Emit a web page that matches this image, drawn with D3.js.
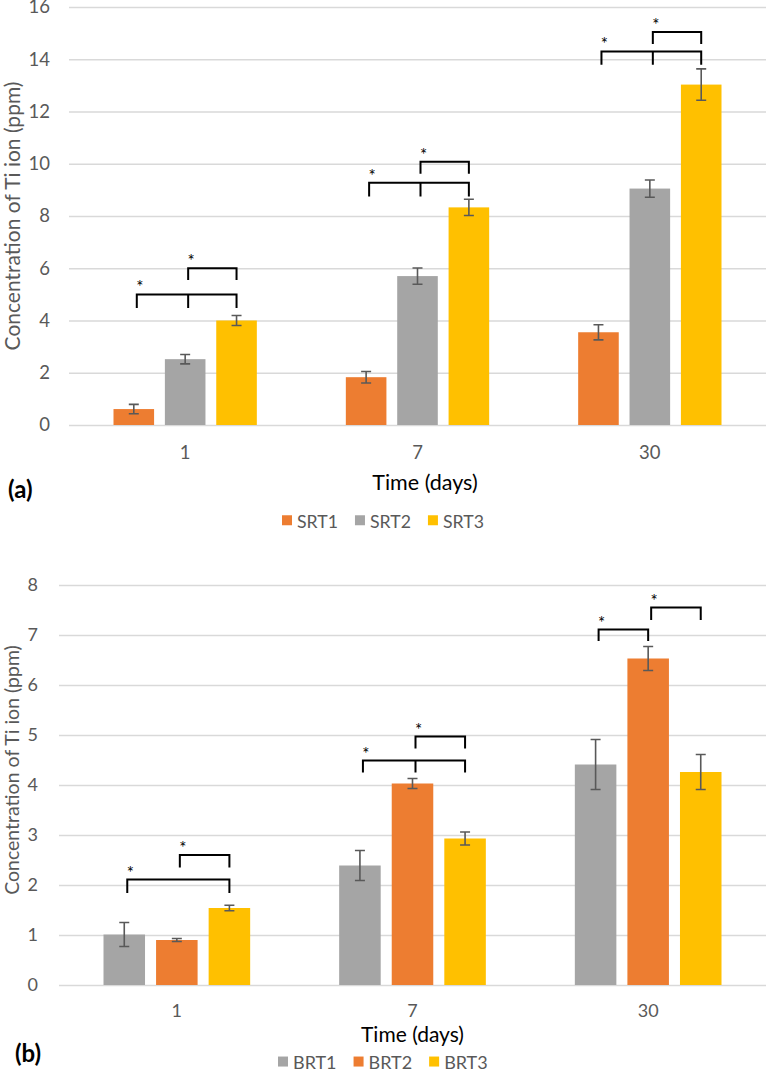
<!DOCTYPE html>
<html><head><meta charset="utf-8">
<script src="https://cdn.jsdelivr.net/npm/d3@7"></script>
<style>
body{margin:0;background:#fff}
svg{display:block}
text{font-family:Lato,"Open Sans",sans-serif}
</style>
</head><body>
<svg id="c" width="767" height="1079"></svg>
<script>
// ---------- data ----------
const days = ["1", "7", "30"];

const seriesA = ["SRT1", "SRT2", "SRT3"];
const srt1 = [0.61, 1.83, 3.55];
const srt2 = [2.52, 5.70, 9.05];
const srt3 = [4.00, 8.33, 13.03];
const srt1Err = [0.18, 0.22, 0.29];
const srt2Err = [0.18, 0.31, 0.33];
const srt3Err = [0.19, 0.31, 0.60];
const ticksA = [0, 2, 4, 6, 8, 10, 12, 14, 16];

const seriesB = ["BRT1", "BRT2", "BRT3"];
const brt1 = [1.01, 2.39, 4.41];
const brt2 = [0.90, 4.03, 6.53];
const brt3 = [1.54, 2.93, 4.26];
const brt1Err = [0.24, 0.30, 0.50];
const brt2Err = [0.03, 0.10, 0.24];
const brt3Err = [0.055, 0.13, 0.35];
const ticksB = [0, 1, 2, 3, 4, 5, 6, 7, 8];

// significance brackets: from/to/mid = series index, y = bracket level, foot = end of the drops (data units)
const bracketsA = [
  {day: "1",  from: 0, to: 2, mid: 1, y: 5.00, foot: 4.48},
  {day: "1",  from: 1, to: 2, y: 6.00, foot: 5.55},
  {day: "7",  from: 0, to: 2, mid: 1, y: 9.27, foot: 8.75},
  {day: "7",  from: 1, to: 2, y: 10.08, foot: 9.62},
  {day: "30", from: 0, to: 2, mid: 1, y: 14.30, foot: 13.79},
  {day: "30", from: 1, to: 2, y: 15.04, foot: 14.58}
];
const bracketsB = [
  {day: "1",  from: 0, to: 2, y: 2.11, foot: 1.84},
  {day: "1",  from: 1, to: 2, y: 2.60, foot: 2.35},
  {day: "7",  from: 0, to: 2, mid: 1, y: 4.49, foot: 4.25},
  {day: "7",  from: 1, to: 2, y: 4.97, foot: 4.73},
  {day: "30", from: 0, to: 1, y: 7.11, foot: 6.88},
  {day: "30", from: 1, to: 2, y: 7.55, foot: 7.30}
];

const ORANGE = "#ED7D31", GRAY = "#A5A5A5", YELLOW = "#FFC000";

const svg = d3.select("#c");

function drawChart(cfg) {
  const g = svg.append("g");
  const x0 = d3.scaleBand().domain(days).range([cfg.left, cfg.right]).padding(0);
  const x1 = d3.scaleBand().domain(cfg.series)
    .range([cfg.groupPad, x0.bandwidth() - cfg.groupPad])
    .paddingInner(0.21).paddingOuter(0);
  const y = d3.scaleLinear().domain([0, d3.max(cfg.ticks)]).range([cfg.bottom, cfg.top]);
  const color = d3.scaleOrdinal().domain(cfg.series).range(cfg.colors);

  // gridlines + y labels
  const ya = g.append("g").attr("transform", `translate(${cfg.left},0)`)
    .call(d3.axisLeft(y).tickValues(cfg.ticks).tickSize(-(cfg.right - cfg.left))
      .tickPadding(cfg.left - cfg.labelRight).tickFormat(d3.format("d")));
  ya.select(".domain").remove();
  ya.selectAll(".tick line").attr("stroke", "#D9D9D9").attr("stroke-width", 1.3);
  ya.selectAll(".tick text").attr("fill", "#595959").style("font-size", cfg.tickFont + "px");

  // x labels
  const xa = g.append("g").attr("transform", `translate(0,${cfg.bottom})`)
    .call(d3.axisBottom(x0).tickSize(0).tickPadding(cfg.xPad));
  xa.select(".domain").remove();
  xa.selectAll(".tick text").attr("fill", "#595959").style("font-size", cfg.tickFont + "px");

  // bars
  const rows = [];
  days.forEach((d, i) => cfg.series.forEach((s, j) => {
    rows.push({day: d, s: s, v: cfg.values[j][i], e: cfg.errs[j][i]});
  }));
  const cx = r => x0(r.day) + x1(r.s) + x1.bandwidth() / 2;
  g.append("g").selectAll("rect").data(rows).join("rect")
    .attr("x", r => x0(r.day) + x1(r.s))
    .attr("y", r => y(r.v))
    .attr("width", x1.bandwidth())
    .attr("height", r => y(0) - y(r.v))
    .attr("fill", r => color(r.s));

  // error bars
  const eb = g.append("g").attr("stroke", "#595959").attr("stroke-width", 1.6).attr("fill", "none");
  eb.selectAll("path").data(rows).join("path")
    .attr("d", r => {
      const c = cx(r), t = y(r.v + r.e), b = y(r.v - r.e), w = 5;
      return `M${c},${t}V${b}M${c - w},${t}H${c + w}M${c - w},${b}H${c + w}`;
    });

  // brackets
  const bx = (day, idx, isEnd) => x0(day) + x1(cfg.series[idx]) + x1.bandwidth() / 2 + (isEnd ? 0 : 3);
  const bg = g.append("g");
  bg.selectAll("path").data(cfg.brackets).join("path")
    .attr("fill", "none").attr("stroke", "#000").attr("stroke-width", 2)
    .attr("d", b => {
      const xl = bx(b.day, b.from, false), xr = bx(b.day, b.to, true);
      const yl = y(b.y), yf = y(b.foot);
      let d = `M${xl},${yf}V${yl}H${xr}V${yf}`;
      if (b.mid !== undefined) { const xm = bx(b.day, b.mid, false); d += `M${xm},${yl}V${yf}`; }
      return d;
    });
  bg.selectAll("text").data(cfg.brackets).join("text")
    .attr("x", b => bx(b.day, b.from, false) + 3)
    .attr("y", b => y(b.y) - 1)
    .attr("text-anchor", "middle")
    .style("font-size", "17px").attr("fill", "#000")
    .text("*");

  // y title
  g.append("text")
    .attr("transform", `translate(${cfg.yTitleX},${cfg.yTitleY}) rotate(-90)`)
    .attr("text-anchor", "middle").attr("dominant-baseline", "central")
    .attr("fill", "#595959").style("font-size", cfg.yTitleFont + "px")
    .text("Concentration of Ti ion (ppm)");

  // x title
  g.append("text").attr("x", cfg.xTitleX).attr("y", cfg.xTitleBase)
    .attr("text-anchor", "middle").attr("fill", "#000").style("font-size", cfg.xTitleFont + "px")
    .text("Time (days)");

  // panel label
  g.append("text").attr("x", cfg.panelX).attr("y", cfg.panelBase)
    .attr("fill", "#000").style("font-size", "24px").style("font-weight", "bold")
    .text(cfg.panel);

  // legend
  const lg = g.append("g");
  let tx = cfg.legendX;
  cfg.series.forEach(s => {
    const t = lg.append("text").attr("x", tx).attr("y", cfg.legendBase)
      .attr("fill", "#595959").style("font-size", cfg.legendFont + "px").text(s);
    lg.append("rect").attr("x", tx - 15).attr("y", cfg.legendBase - cfg.legendFont * 0.72 + 0.5)
      .attr("width", 10).attr("height", 10).attr("fill", color(s));
    tx += t.node().getComputedTextLength() + 32;
  });
}

drawChart({
  series: seriesA, values: [srt1, srt2, srt3], errs: [srt1Err, srt2Err, srt3Err],
  colors: [ORANGE, GRAY, YELLOW], ticks: ticksA, brackets: bracketsA,
  left: 69, right: 766, top: 7, bottom: 425, groupPad: 44.5, labelRight: 50,
  tickFont: 18.5, xPad: 20.5,
  yTitleX: 11, yTitleY: 216, yTitleFont: 21,
  xTitleX: 425, xTitleBase: 489.5, xTitleFont: 21.5,
  panel: "(a)", panelX: 8, panelBase: 498,
  legendX: 297, legendBase: 527.5, legendFont: 17.7
});

drawChart({
  series: seriesB, values: [brt1, brt2, brt3], errs: [brt1Err, brt2Err, brt3Err],
  colors: [GRAY, ORANGE, YELLOW], ticks: ticksB, brackets: bracketsB,
  left: 59, right: 766, top: 585, bottom: 985, groupPad: 44.5, labelRight: 38,
  tickFont: 18, xPad: 19,
  yTitleX: 11, yTitleY: 770, yTitleFont: 19.5,
  xTitleX: 412.5, xTitleBase: 1042, xTitleFont: 21,
  panel: "(b)", panelX: 15, panelBase: 1062,
  legendX: 293, legendBase: 1069, legendFont: 18
});
</script>
</body></html>
